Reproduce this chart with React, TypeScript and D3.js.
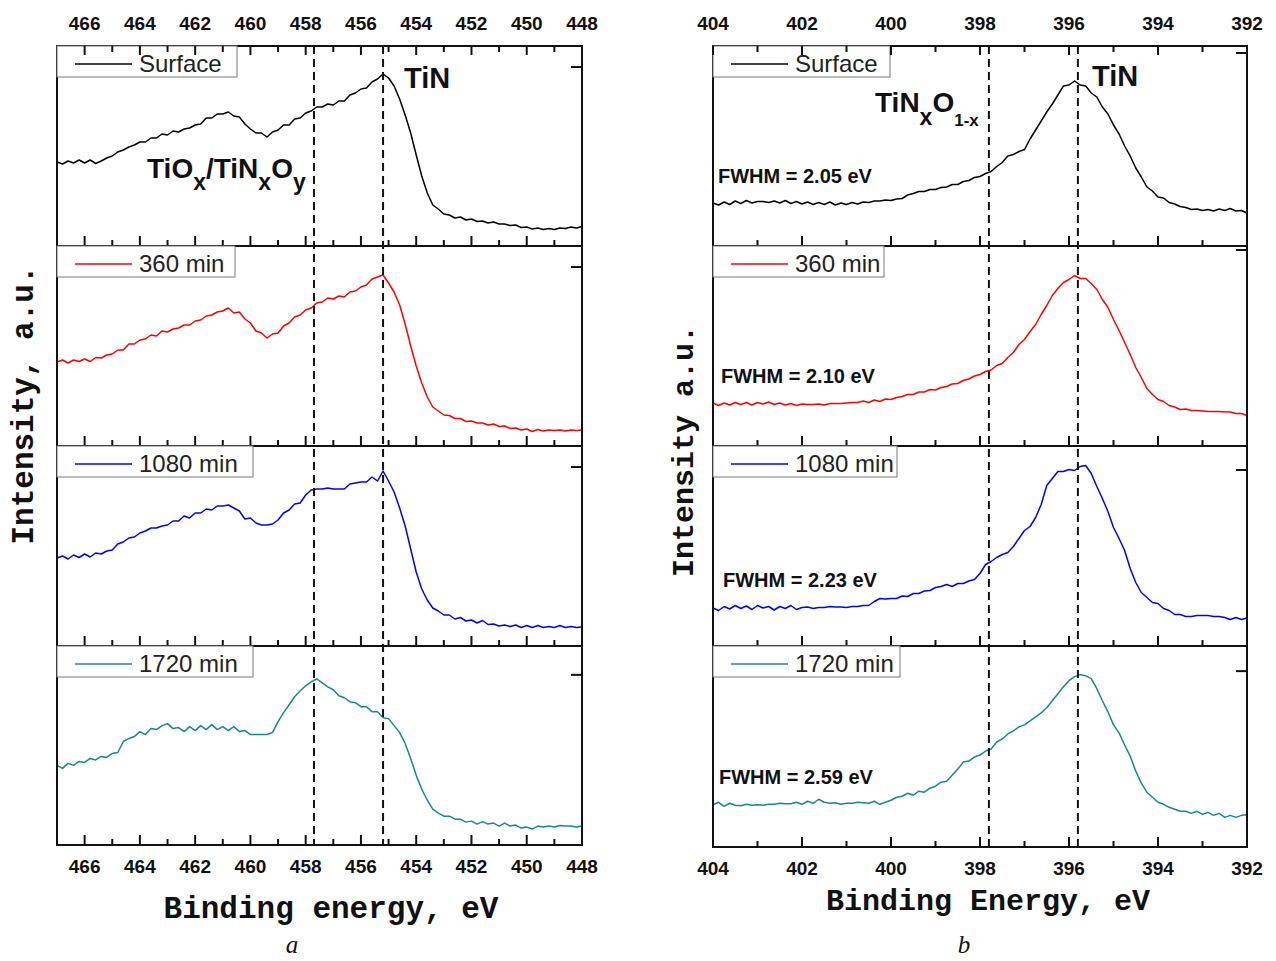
import React from "react";
import * as d3 from "d3";

// ---------- DATA ----------
// Ti 2p region binding energies (eV)
const tiEnergy: number[] = [
  467, 466.8, 466.6, 466.4, 466.2, 466, 465.8, 465.6, 465.4, 465.2,
  465, 464.8, 464.6, 464.4, 464.2, 464, 463.8, 463.6, 463.4, 463.2,
  463, 462.8, 462.6, 462.4, 462.2, 462, 461.8, 461.6, 461.4, 461.2,
  461, 460.8, 460.6, 460.4, 460.2, 460, 459.8, 459.6, 459.4, 459.2,
  459, 458.8, 458.6, 458.4, 458.2, 458, 457.8, 457.6, 457.4, 457.2,
  457, 456.8, 456.6, 456.4, 456.2, 456, 455.8, 455.6, 455.4, 455.2,
  455, 454.8, 454.6, 454.4, 454.2, 454, 453.8, 453.6, 453.4, 453.2,
  453, 452.8, 452.6, 452.4, 452.2, 452, 451.8, 451.6, 451.4, 451.2,
  451, 450.8, 450.6, 450.4, 450.2, 450, 449.8, 449.6, 449.4, 449.2,
  449, 448.8, 448.6, 448.4, 448.2, 448,
];
const tiSurface: number[] = [
  84, 82, 85, 83, 86, 83, 86, 82.5, 85, 88,
  90, 94, 96, 99, 101, 104, 104, 108, 108, 112,
  111, 115, 114, 117, 118, 121, 122, 128, 128, 132,
  132, 134, 130, 129, 122, 117, 113, 113, 109, 114,
  116, 121, 121, 127, 128, 133, 135, 139, 139, 142,
  141, 145, 145, 151, 153, 157, 158, 164, 167, 172,
  168, 160, 147, 131, 113, 91, 70, 53, 41, 37,
  32, 31, 28, 29, 26, 27, 24.5, 25, 23, 24,
  22, 22, 20.5, 21, 18.5, 19, 17, 18, 16.5, 17.5,
  16.5, 18, 17.5, 19, 18, 19.5,
];
const tiMin360: number[] = [
  84, 86, 83, 86, 84.5, 87, 84.5, 88.5, 88, 91,
  92, 96, 96, 102, 102, 106, 107, 111, 110, 115,
  114, 117, 118, 121, 121, 125, 126, 130, 131, 134,
  135, 138, 133, 134, 127, 123, 115, 113, 108, 112,
  113, 120, 123, 129, 131, 136, 138, 143, 144, 148,
  147, 150, 149, 154, 155, 159, 161, 167, 169, 171,
  163, 154, 141, 122, 100, 80, 63, 49, 39, 35,
  31, 30.5, 27.5, 27.5, 24.5, 25, 23, 23, 21, 22,
  19.5, 20, 17.5, 18, 16, 17, 14.5, 16.5, 15, 16,
  15.5, 16, 15, 16, 15.5, 16,
];
const tiMin1080: number[] = [
  88, 90, 87, 91, 88.5, 92, 89, 93, 92, 95,
  96, 102, 104, 108, 109, 113, 115, 118, 118, 120,
  121, 125, 125, 130, 128, 133, 133, 137, 136, 140,
  140, 141, 138, 135, 127, 128, 123, 121, 121, 122,
  126, 133, 136, 142, 143, 151, 156, 157, 157, 158,
  157, 157, 157, 162, 163, 164, 164, 169, 165, 175,
  165, 154, 138, 120, 97, 74, 57, 46, 38, 35,
  31, 31, 27, 28.5, 25, 26, 23, 25.5, 21.5, 22,
  20, 21, 19.5, 21, 18.5, 20.5, 18.5, 20.5, 18.5, 19.5,
  18.5, 20.5, 18.5, 19.5, 18.5, 19,
];
const tiMin1720: number[] = [
  80, 77, 82, 80, 84, 83, 87, 85.5, 89, 88,
  92, 93, 104, 107, 109, 114, 111, 117, 116, 120,
  122, 117, 118, 114, 119, 115, 120, 116, 121, 116,
  119, 115, 119, 114, 115, 111, 111, 111, 111, 113,
  124, 133, 141, 149, 155, 160, 164, 167, 163, 159,
  156, 150, 148, 144, 143, 139, 139, 134, 134, 128,
  127, 120, 113, 102, 87, 70, 56, 45, 36, 32,
  29, 29, 26, 26, 23, 24, 21, 23.5, 21, 22,
  19, 22, 19, 20, 17, 18, 16, 19, 18, 19,
  18, 19.5, 19, 19, 18, 19,
];

// N 1s region binding energies (eV)
const nEnergy: number[] = [
  404, 403.875, 403.75, 403.625, 403.5, 403.375, 403.25, 403.125,
  403, 402.875, 402.75, 402.625, 402.5, 402.375, 402.25, 402.125,
  402, 401.875, 401.75, 401.625, 401.5, 401.375, 401.25, 401.125,
  401, 400.875, 400.75, 400.625, 400.5, 400.375, 400.25, 400.125,
  400, 399.875, 399.75, 399.625, 399.5, 399.375, 399.25, 399.125,
  399, 398.875, 398.75, 398.625, 398.5, 398.375, 398.25, 398.125,
  398, 397.875, 397.75, 397.625, 397.5, 397.375, 397.25, 397.125,
  397, 396.875, 396.75, 396.625, 396.5, 396.375, 396.25, 396.125,
  396, 395.875, 395.75, 395.625, 395.5, 395.375, 395.25, 395.125,
  395, 394.875, 394.75, 394.625, 394.5, 394.375, 394.25, 394.125,
  394, 393.875, 393.75, 393.625, 393.5, 393.375, 393.25, 393.125,
  393, 392.875, 392.75, 392.625, 392.5, 392.375, 392.25, 392.125,
  392,
];
const nSurface: number[] = [
  43, 41, 44, 41.5, 45, 42.5, 45.5, 43,
  44.5, 44.5, 43.5, 45, 43, 45.5, 42.5, 44.5,
  42, 44, 41.5, 43.5, 41.5, 44, 41, 43,
  41.5, 43.5, 42, 44, 43.5, 45, 45, 46,
  45.5, 47, 47.5, 51, 52.5, 54.5, 54.5, 56.5,
  56.5, 58.5, 59, 61.5, 61.5, 64.5, 65.5, 68.5,
  69.5, 72.5, 74.5, 79.5, 83.5, 90, 91.5, 94.5,
  96.5, 107, 116, 125, 134, 142, 151, 160,
  161, 165, 161, 160, 153, 149, 139, 132,
  121, 112, 100, 90, 78, 69, 59, 55,
  49, 48, 43.5, 42, 39.5, 38.5, 36.5, 37,
  35.5, 36.5, 35, 37, 35.5, 37.5, 35, 35.5,
  33,
];
const nMin360: number[] = [
  43, 40.5, 43, 41, 43.5, 41.5, 43.5, 41,
  43.5, 42, 44, 41.5, 43, 41, 42.5, 40.5,
  42, 41.5, 41.5, 42, 41, 42.5, 42.5, 42.5,
  43, 43.5, 43.5, 45, 43.5, 46, 44.5, 47,
  46.5, 48.5, 49.5, 51.5, 51.5, 54, 54, 56.5,
  56, 58.5, 59.5, 62, 62.5, 65.5, 67, 70,
  71.5, 74.5, 76, 80.5, 82.5, 88.5, 93.5, 101.5,
  106.5, 114.5, 121.5, 131.5, 140.5, 150.5, 157.5, 163.5,
  166.5, 170.5, 167.5, 167.5, 162.5, 156.5, 146.5, 138.5,
  126.5, 115.5, 103.5, 91.5, 78.5, 68.5, 57.5, 51.5,
  46.5, 44.5, 40.5, 39, 36.5, 37, 35.5, 35.5,
  35, 34.5, 34.5, 34.5, 34, 34, 32.5, 32.5,
  30.5,
];
const nMin1080: number[] = [
  38, 35.5, 39.5, 37, 40.5, 37.5, 40, 36.5,
  40.5, 38, 39.5, 36, 39.5, 37.5, 40.5, 36.5,
  38.5, 39, 37.5, 38.5, 38.5, 39.5, 39, 39,
  38.5, 39.5, 39.5, 40.5, 40.5, 44.5, 47.5, 47,
  47.5, 47.5, 50, 49.5, 52.5, 52.5, 55, 55.5,
  58.5, 59.5, 61.5, 59.5, 62.5, 62.5, 65, 66.5,
  72.5, 81.5, 84.5, 88.5, 91.5, 93.5, 99.5, 107.5,
  115.5, 119.5, 128.5, 141.5, 160.5, 167.5, 174.5, 174.5,
  176.5, 175.5, 179.5, 180.5, 172.5, 159.5, 147.5, 134.5,
  118.5, 107.5, 95.5, 77.5, 63.5, 53.5, 48.5, 43.5,
  42.5, 37.5, 35.5, 31.5, 31.5, 29.5, 29.5, 30.5,
  30.5, 30.5, 29.5, 29.5, 28.5, 26.5, 28.5, 26.5,
  28,
];
const nMin1720: number[] = [
  42, 44.5, 40.5, 43.5, 41.5, 41, 42.5, 41.5,
  42, 41.5, 42.5, 42.5, 43.5, 43, 43, 44.5,
  42.5, 45.5, 43.5, 47.5, 44.5, 43.5, 44, 42.5,
  43.5, 43.5, 44.5, 44, 43.5, 45.5, 42.5, 44.5,
  46.5, 49.5, 50.5, 53.5, 51.5, 55.5, 54.5, 58.5,
  60.5, 64.5, 65.5, 71.5, 77.5, 84.5, 85.5, 89.5,
  91.5, 95.5, 97.5, 104.5, 107.5, 112.5, 115.5, 119.5,
  121.5, 125.5, 129.5, 133.5, 138.5, 145.5, 152.5, 159.5,
  165.5, 169.5, 171.5, 170.5, 167.5, 157.5, 145.5, 134.5,
  121.5, 113.5, 101.5, 90.5, 75.5, 63.5, 54.5, 49.5,
  44.5, 42.5, 39.5, 37.5, 35.5, 35.5, 33.5, 35.5,
  32.5, 34.5, 31.5, 33.5, 29.5, 31.5, 29.5, 31.5,
  32,
];

const seriesNames: string[] = ["Surface", "360 min", "1080 min", "1720 min"];
const seriesColors: string[] = ["#000000", "#ff0000", "#0000ff", "#168a8a"];
const tiMajorTicks: number[] = [466, 464, 462, 460, 458, 456, 454, 452, 450, 448];
const tiMinorTicks: number[] = [465, 463, 461, 459, 457, 455, 453, 451, 449];
const nMajorTicks: number[] = [404, 402, 400, 398, 396, 394, 392];
const nMinorTicks: number[] = [403, 401, 399, 397, 395, 393];
const tiRefLines: number[] = [457.7, 455.2];
const nRefLines: number[] = [397.8, 395.8];
const tiRightTick: number[] = [179, 179, 179, 171];
const nRightTick: number[] = [193, 196, 176, 175];
const fwhmLabels: string[] = ["FWHM = 2.05 eV", "FWHM = 2.10 eV", "FWHM = 2.23 eV", "FWHM = 2.59 eV"];

// ---------- LAYOUT ----------
const W = 1276;
const H = 961;
const SANS = "'Liberation Sans', Arial, Helvetica, sans-serif";
const MONO = "'Liberation Mono', 'Courier New', monospace";
const SERIF = "'Liberation Serif', 'Times New Roman', serif";

type ColumnProps = {
  x: d3.ScaleLinear<number, number>;
  edges: number[];
  energies: number[];
  series: number[][];
  major: number[];
  minor: number[];
  refLines: number[];
  rightTicks: number[];
  legendWidths: number[];
  topLabelY: number;
  bottomLabelY: number;
};

function Column(p: ColumnProps) {
  const [x0, x1] = p.x.range();
  const top = p.edges[0];
  const bottom = p.edges[p.edges.length - 1];
  const panels = p.series.map((vals, i) => {
    const y = d3.scaleLinear().domain([0, 200]).range([p.edges[i + 1], p.edges[i]]);
    const line = d3
      .line<number>()
      .x((_, k) => p.x(p.energies[k]))
      .y((v) => y(v));
    return { y, path: line(vals) || "", i };
  });
  return (
    <g>
      {panels.map(({ path, i }) => (
        <path key={"l" + i} d={path} fill="none" stroke={seriesColors[i]} strokeWidth={1.5} strokeLinejoin="round" />
      ))}
      {p.refLines.map((e) => (
        <line key={"r" + e} x1={p.x(e)} x2={p.x(e)} y1={top} y2={bottom} stroke="#111" strokeWidth={2} strokeDasharray="8,5" />
      ))}
      {panels.map(({ y, i }) => {
        const pt = p.edges[i];
        const pb = p.edges[i + 1];
        return (
          <g key={"f" + i}>
            <rect x={x0} y={pt} width={x1 - x0} height={pb - pt} fill="none" stroke="#111" strokeWidth={2} />
            {p.major.map((t) => (
              <line key={"M" + t} x1={p.x(t)} x2={p.x(t)} y1={pb} y2={pb - 10} stroke="#111" strokeWidth={2} />
            ))}
            {p.minor.map((t) => (
              <line key={"m" + t} x1={p.x(t)} x2={p.x(t)} y1={pb} y2={pb - 6} stroke="#111" strokeWidth={2} />
            ))}
            <line x1={x1} x2={x1 - 11} y1={y(p.rightTicks[i])} y2={y(p.rightTicks[i])} stroke="#111" strokeWidth={2} />
            <rect x={x0} y={pt} width={p.legendWidths[i]} height={31} fill="#fff" stroke="#777" strokeWidth={1} />
            <line x1={x0 + 18} x2={x0 + 75} y1={pt + 18} y2={pt + 18} stroke={seriesColors[i]} strokeWidth={1.5} />
            <text x={x0 + 82} y={pt + 26} fontFamily={SANS} fontSize={24} fill="#222">
              {seriesNames[i]}
            </text>
          </g>
        );
      })}
      {p.major.map((t) => (
        <line key={"tM" + t} x1={p.x(t)} x2={p.x(t)} y1={top} y2={top + 9} stroke="#111" strokeWidth={2} />
      ))}
      {p.minor.map((t) => (
        <line key={"tm" + t} x1={p.x(t)} x2={p.x(t)} y1={top} y2={top + 6} stroke="#111" strokeWidth={2} />
      ))}
      {p.major.map((t) => (
        <text key={"tl" + t} x={p.x(t)} y={p.topLabelY} textAnchor="middle" fontFamily={SANS} fontWeight="bold" fontSize={19} fill="#111">
          {t}
        </text>
      ))}
      {p.major.map((t) => (
        <text key={"bl" + t} x={p.x(t)} y={p.bottomLabelY} textAnchor="middle" fontFamily={SANS} fontWeight="bold" fontSize={19} fill="#111">
          {t}
        </text>
      ))}
    </g>
  );
}

export default function App() {
  const tiX = d3.scaleLinear().domain([467, 448]).range([57, 582]);
  const nX = d3.scaleLinear().domain([404, 392]).range([713, 1247]);
  const tiEdges = [46, 246, 446, 646, 845];
  const nEdges = [46, 246, 446, 646, 847];
  const fwhmPos = [
    [718, 183],
    [721, 383],
    [723, 587],
    [719, 784],
  ];
  return (
    <svg
      width={W}
      height={H}
      viewBox={`0 0 ${W} ${H}`}
      style={{ position: "absolute", left: 0, top: 0, background: "#fff" }}
    >
      <rect x={0} y={0} width={W} height={H} fill="#fff" />
      <Column
        x={tiX}
        edges={tiEdges}
        energies={tiEnergy}
        series={[tiSurface, tiMin360, tiMin1080, tiMin1720]}
        major={tiMajorTicks}
        minor={tiMinorTicks}
        refLines={tiRefLines}
        rightTicks={tiRightTick}
        legendWidths={[180, 178, 196, 196]}
        topLabelY={30}
        bottomLabelY={873}
      />
      <Column
        x={nX}
        edges={nEdges}
        energies={nEnergy}
        series={[nSurface, nMin360, nMin1080, nMin1720]}
        major={nMajorTicks}
        minor={nMinorTicks}
        refLines={nRefLines}
        rightTicks={nRightTick}
        legendWidths={[177, 171, 184, 187]}
        topLabelY={30}
        bottomLabelY={875}
      />

      <text x={404} y={88} fontFamily={SANS} fontWeight="bold" fontSize={29} fill="#111">TiN</text>
      <text x={147} y={178} fontFamily={SANS} fontWeight="bold" fontSize={28} fill="#111">
        TiO
        <tspan fontSize={23} dy={12}>x</tspan>
        <tspan fontSize={28} dy={-12}>/TiN</tspan>
        <tspan fontSize={23} dy={12}>x</tspan>
        <tspan fontSize={28} dy={-12}>O</tspan>
        <tspan fontSize={23} dy={12}>y</tspan>
      </text>

      <text x={1092} y={86} fontFamily={SANS} fontWeight="bold" fontSize={29} fill="#111">TiN</text>
      <text x={875} y={112} fontFamily={SANS} fontWeight="bold" fontSize={28} fill="#111">
        TiN
        <tspan fontSize={23} dy={13}>x</tspan>
        <tspan fontSize={28} dy={-13}>O</tspan>
        <tspan fontSize={17} dy={14}>1-x</tspan>
      </text>
      {fwhmLabels.map((s, i) => (
        <text key={s} x={fwhmPos[i][0]} y={fwhmPos[i][1]} fontFamily={SANS} fontWeight="bold" fontSize={20} fill="#111">
          {s}
        </text>
      ))}

      <text x={331} y={918} textAnchor="middle" fontFamily={MONO} fontWeight="bold" fontSize={31} fill="#111">
        Binding energy, eV
      </text>
      <text x={988} y={910} textAnchor="middle" fontFamily={MONO} fontWeight="bold" fontSize={30} fill="#111">
        Binding Energy, eV
      </text>
      <text transform="translate(33,405) rotate(-90)" textAnchor="middle" fontFamily={MONO} fontWeight="bold" fontSize={31} fill="#111">
        Intensity, a.u.
      </text>
      <text transform="translate(693,451) rotate(-90)" textAnchor="middle" fontFamily={MONO} fontWeight="bold" fontSize={30} fill="#111">
        Intensity a.u.
      </text>

      <text x={292} y={953} textAnchor="middle" fontFamily={SERIF} fontStyle="italic" fontSize={25} fill="#111">a</text>
      <text x={964} y={953} textAnchor="middle" fontFamily={SERIF} fontStyle="italic" fontSize={25} fill="#111">b</text>
    </svg>
  );
}
